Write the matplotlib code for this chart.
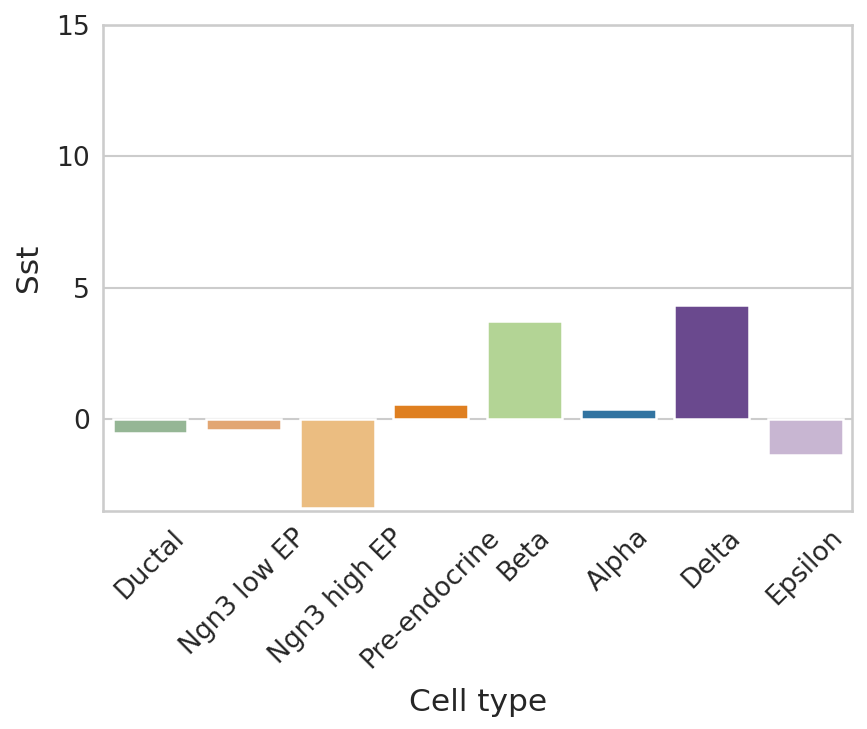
import matplotlib
matplotlib.use("Agg")
import matplotlib.pyplot as plt
import seaborn as sns
import pandas as pd

cell_types = ["Ductal", "Ngn3 low EP", "Ngn3 high EP", "Pre-endocrine",
              "Beta", "Alpha", "Delta", "Epsilon"]
sst_values = [-0.55, -0.4, -3.4, 0.57, 3.73, 0.38, 4.34, -1.36]
colors = ["#8fbc8f", "#f4a460", "#fdbf6f", "#ff7f00",
          "#b2df8a", "#1f78b4", "#6a3d9a", "#cab2d6"]

sns.set_theme(style="whitegrid", context="notebook",
              rc={"xtick.labelsize": 12.8, "ytick.labelsize": 12.8,
                  "axes.labelsize": 15,
                  "xtick.major.size": 3, "ytick.major.size": 3})

df = pd.DataFrame({"Cell type": cell_types, "Sst": sst_values})

fig, ax = plt.subplots(figsize=(867 / 150, 729 / 150), dpi=150)
fig.subplots_adjust(left=0.119, right=0.983, top=0.966, bottom=0.299)

sns.barplot(data=df, x="Cell type", y="Sst", hue="Cell type",
            palette=colors, legend=False, ax=ax,
            edgecolor="white", linewidth=1.2)

ax.set_ylim(-3.5, 15)
ax.set_yticks([0, 5, 10, 15])
ax.tick_params(axis="x", rotation=45)
ax.set_xlabel("Cell type", labelpad=7)
ax.set_ylabel("Sst", labelpad=6)
ax.set_axisbelow(True)

fig.savefig("out.png", dpi=150)
